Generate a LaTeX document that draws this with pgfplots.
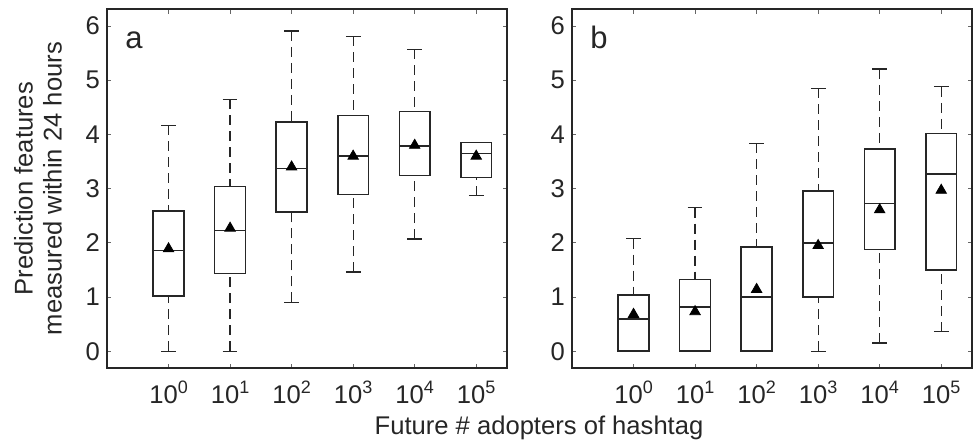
\documentclass[border=0pt]{standalone}
\usepackage{pgfplots}
\pgfplotsset{compat=1.18}
\usepgfplotslibrary{statistics}
\usepackage{fontspec}
\setmainfont{Liberation Sans}
\newcommand{\tl}[1]{10\raisebox{5pt}{\fontsize{9}{9}\selectfont #1}}
\definecolor{ink}{gray}{0.15}
\pgfplotsset{
  mybox/.style={
    scale only axis, width=200pt, height=179.35pt,
    xmin=-1, xmax=5.5, ymin=-0.31, ymax=6.31,
    xtick={0,1,2,3,4,5},
    xticklabels={\tl{0},\tl{1},\tl{2},\tl{3},\tl{4},\tl{5}},
    ytick={0,1,2,3,4,5,6},
    tick align=inside, major tick length=2.2pt,
    tick style={gray!80!black, line width=0.5pt},
    axis line style={ink, line width=0.9pt},
    /pgf/number format/assume math mode=true,
    yticklabel style={font=\fontsize{12.8}{14}\selectfont, text=ink},
    xticklabel style={font=\fontsize{12.8}{14}\selectfont, text=ink, anchor=base, yshift=-17.5pt},
    boxplot/draw direction=y,
    boxplot/box extend=0.5,
    boxplot/whisker extend=0.24,
    boxplot/draw/lower whisker/.code={%
      \draw[ink, line width=0.6pt, dash pattern=on 5pt off 3pt]
        (boxplot box cs:\pgfplotsboxplotvalue{lower whisker},0.5) --
        (boxplot box cs:\pgfplotsboxplotvalue{lower quartile},0.5);
      \draw[ink, line width=0.6pt, solid]
        (boxplot whisker cs:\pgfplotsboxplotvalue{lower whisker},0) --
        (boxplot whisker cs:\pgfplotsboxplotvalue{lower whisker},1);
    },
    boxplot/draw/upper whisker/.code={%
      \draw[ink, line width=0.6pt, dash pattern=on 5pt off 3pt]
        (boxplot box cs:\pgfplotsboxplotvalue{upper whisker},0.5) --
        (boxplot box cs:\pgfplotsboxplotvalue{upper quartile},0.5);
      \draw[ink, line width=0.6pt, solid]
        (boxplot whisker cs:\pgfplotsboxplotvalue{upper whisker},0) --
        (boxplot whisker cs:\pgfplotsboxplotvalue{upper whisker},1);
    },
  },
  bx/.style={draw=ink, fill=none, solid, line width=0.75pt, mark=none},
  meanmk/.style={only marks, mark=triangle*, mark size=3pt, mark options={fill=black, draw=black}},
}
\begin{document}
\begin{tikzpicture}
\useasboundingbox (-53.5pt,-36pt) rectangle (434pt,184pt);
% Panel a
\begin{axis}[mybox, at={(0pt,0pt)}, anchor=south west,
  ylabel={Prediction features\\measured within 24 hours},
  ylabel style={align=center, font=\fontsize{12.8}{14.5}\selectfont, text=ink,
    at={(axis description cs:-0.1725,0.5)}, anchor=center}]
\addplot[bx, boxplot prepared={draw position=0, lower whisker=0, lower quartile=1.02, median=1.86, upper quartile=2.59, upper whisker=4.17}] coordinates {};
\addplot[bx, boxplot prepared={draw position=1, lower whisker=0, lower quartile=1.43, median=2.23, upper quartile=3.04, upper whisker=4.65}] coordinates {};
\addplot[bx, boxplot prepared={draw position=2, lower whisker=0.90, lower quartile=2.57, median=3.37, upper quartile=4.23, upper whisker=5.91}] coordinates {};
\addplot[bx, boxplot prepared={draw position=3, lower whisker=1.46, lower quartile=2.89, median=3.60, upper quartile=4.35, upper whisker=5.81}] coordinates {};
\addplot[bx, boxplot prepared={draw position=4, lower whisker=2.07, lower quartile=3.24, median=3.79, upper quartile=4.42, upper whisker=5.57}] coordinates {};
\addplot[bx, boxplot prepared={draw position=5, lower whisker=2.87, lower quartile=3.21, median=3.65, upper quartile=3.85, upper whisker=3.85}] coordinates {};
\addplot[meanmk] coordinates {(0,1.89) (1,2.27) (2,3.40) (3,3.60) (4,3.80) (5,3.60)};
\node[anchor=base west, inner sep=0pt, font=\fontsize{15.5}{16}\selectfont, text=ink] at (rel axis cs:0.045,1) [yshift=-19.4pt] {a};
\end{axis}
% Panel b
\begin{axis}[mybox, at={(232.5pt,0pt)}, anchor=south west]
\addplot[bx, boxplot prepared={draw position=0, lower whisker=0, lower quartile=0, median=0.59, upper quartile=1.04, upper whisker=2.08}] coordinates {};
\addplot[bx, boxplot prepared={draw position=1, lower whisker=0, lower quartile=0, median=0.82, upper quartile=1.32, upper whisker=2.65}] coordinates {};
\addplot[bx, boxplot prepared={draw position=2, lower whisker=0, lower quartile=0, median=1.00, upper quartile=1.92, upper whisker=3.84}] coordinates {};
\addplot[bx, boxplot prepared={draw position=3, lower whisker=0, lower quartile=1.00, median=2.00, upper quartile=2.96, upper whisker=4.85}] coordinates {};
\addplot[bx, boxplot prepared={draw position=4, lower whisker=0.15, lower quartile=1.88, median=2.73, upper quartile=3.73, upper whisker=5.21}] coordinates {};
\addplot[bx, boxplot prepared={draw position=5, lower whisker=0.36, lower quartile=1.50, median=3.27, upper quartile=4.02, upper whisker=4.88}] coordinates {};
\addplot[meanmk] coordinates {(0,0.68) (1,0.73) (2,1.14) (3,1.95) (4,2.61) (5,2.97)};
\node[anchor=base west, inner sep=0pt, font=\fontsize{15.5}{16}\selectfont, text=ink] at (rel axis cs:0.045,1) [yshift=-19.4pt] {b};
\end{axis}
\node[anchor=base, font=\fontsize{12.8}{14}\selectfont, text=ink] at (216pt,-33pt) {Future \# adopters of hashtag};
\end{tikzpicture}
\end{document}
